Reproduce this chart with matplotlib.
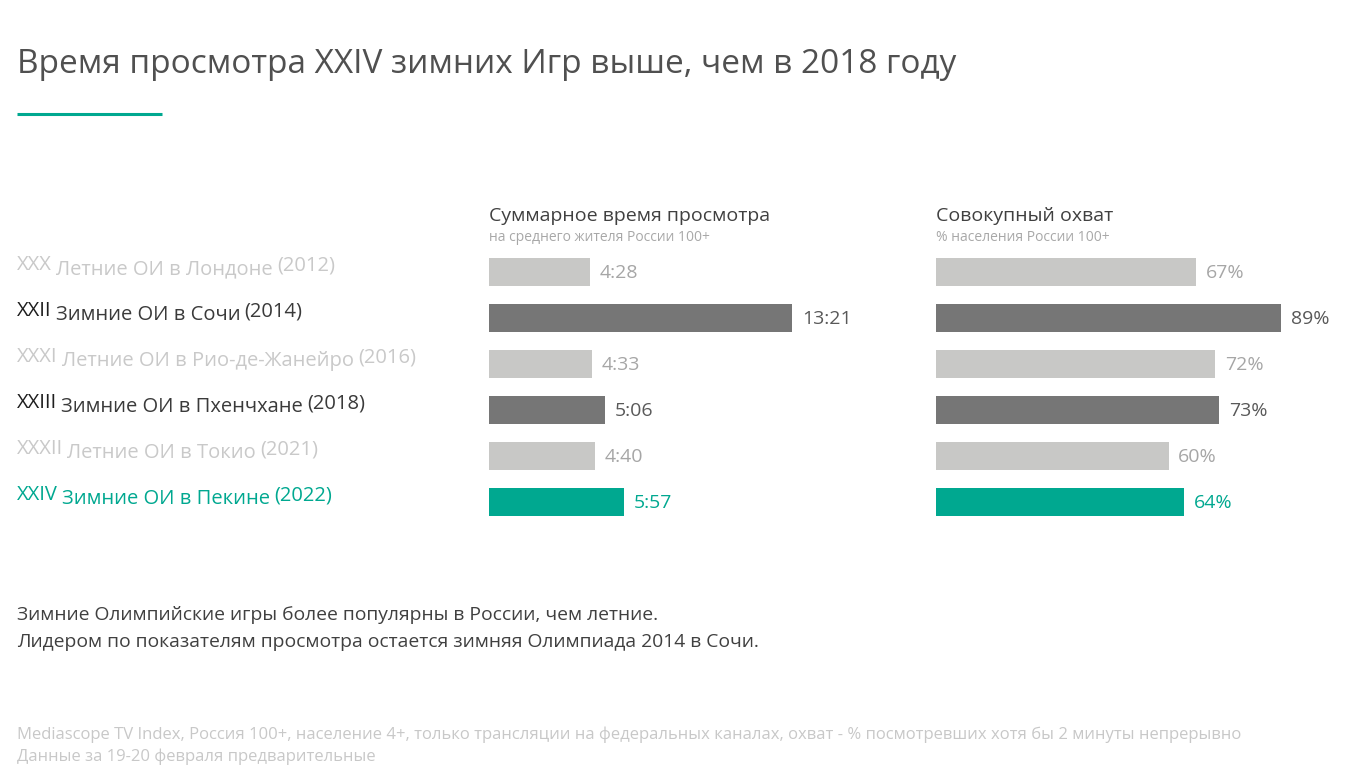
import matplotlib.pyplot as plt
import matplotlib.transforms as mtransforms

plt.rcParams['font.family'] = ['Open Sans', 'DejaVu Sans']

W, H = 1352, 779

# data
numerals = ["XXX", "XXII", "XXXI", "XXIII", "XXXII", "XXIV"]
names = ["Летние ОИ в Лондоне", "Зимние ОИ в Сочи", "Летние ОИ в Рио-де-Жанейро",
         "Зимние ОИ в Пхенчхане", "Летние ОИ в Токио", "Зимние ОИ в Пекине"]
years = ["(2012)", "(2014)", "(2016)", "(2018)", "(2021)", "(2022)"]
kinds = ["summer", "winter", "summer", "winter", "summer", "current"]
view_time = ["4:28", "13:21", "4:33", "5:06", "4:40", "5:57"]
reach = [67, 89, 72, 73, 60, 64]

view_sec = [int(t.split(":")[0]) * 60 + int(t.split(":")[1]) for t in view_time]

TEAL = "#00A890"
bar_col = {"summer": "#C8C8C6", "winter": "#767676", "current": TEAL}
val_col = {"summer": "#A6A6A6", "winter": "#595959", "current": TEAL}
lab_col = {"summer": "#C9C9C9", "winter": "#3A3A3A", "current": TEAL}


def fx(x):
    return x / W


def fy(y):
    return 1 - y / H


fig = plt.figure(figsize=(W / 100, H / 100), dpi=100)
fig.patch.set_facecolor("white")

# rows: centres at 272 + 46*i px
top, bottom = 249, 525
ax1 = fig.add_axes([fx(489), fy(bottom), fx(303), (bottom - top) / H])
ax2 = fig.add_axes([fx(936), fy(bottom), fx(345), (bottom - top) / H])

rows = list(range(len(numerals)))
ax1.barh(rows, view_sec, height=0.63, color=[bar_col[k] for k in kinds])
ax2.barh(rows, reach, height=0.63, color=[bar_col[k] for k in kinds])
ax1.set_xlim(0, max(view_sec))
ax2.set_xlim(0, max(reach))

for ax in (ax1, ax2):
    ax.set_ylim(5.5, -0.5)
    ax.axis("off")

for i, k in enumerate(kinds):
    ax1.annotate(view_time[i], xy=(view_sec[i], i), xytext=(7, -1), textcoords="offset points",
                 va="center", ha="left", fontsize=14, color=val_col[k], annotation_clip=False)
    ax2.annotate(f"{reach[i]}%", xy=(reach[i], i), xytext=(7, -1), textcoords="offset points",
                 va="center", ha="left", fontsize=14, color=val_col[k], annotation_clip=False)

# row labels, numeral and year sit a little higher than the name
blend = mtransforms.blended_transform_factory(fig.transFigure, ax1.transData)
for i, k in enumerate(kinds):
    c = lab_col[k]
    t1 = ax1.text(fx(17), i + 0.07, numerals[i], transform=blend, va="bottom", ha="left",
                  fontsize=14.5, color="#1E1E1E" if k == "winter" else c)
    t2 = ax1.annotate(names[i], xy=(1, 0), xycoords=t1, xytext=(3, -3), textcoords="offset points",
                      va="bottom", ha="left", fontsize=14.5, color=c)
    ax1.annotate(years[i], xy=(1, 0), xycoords=t2, xytext=(3, 3), textcoords="offset points",
                 va="bottom", ha="left", fontsize=14.5, color=c)

# panel headers
fig.text(fx(489), fy(221), "Суммарное время просмотра", fontsize=14, color="#404040", va="baseline")
fig.text(fx(489), fy(241), "на среднего жителя России 100+", fontsize=10, color="#A8A8A8", va="baseline")
fig.text(fx(936), fy(221), "Совокупный охват", fontsize=14, color="#404040", va="baseline")
fig.text(fx(936), fy(241), "% населения России 100+", fontsize=10, color="#A8A8A8", va="baseline")

# title and accent line
fig.text(fx(17), fy(73), "Время просмотра XXIV зимних Игр выше, чем в 2018 году",
         fontsize=24, color="#505050", va="baseline")
fig.add_artist(plt.Line2D([fx(17), fx(162)], [fy(114), fy(114)], color=TEAL, linewidth=2.2,
                          solid_capstyle="butt"))

# comment
fig.text(fx(17), fy(620), "Зимние Олимпийские игры более популярны в России, чем летние.",
         fontsize=13.9, color="#404040", va="baseline")
fig.text(fx(17), fy(647), "Лидером по показателям просмотра остается зимняя Олимпиада 2014 в Сочи.",
         fontsize=13.9, color="#404040", va="baseline")

# source
fig.text(fx(17), fy(739), "Mediascope TV Index, Россия 100+, население 4+, только трансляции на федеральных "
         "каналах, охват - % посмотревших хотя бы 2 минуты непрерывно",
         fontsize=12, color="#C8C8C8", va="baseline")
fig.text(fx(17), fy(761), "Данные за 19-20 февраля предварительные",
         fontsize=12, color="#C8C8C8", va="baseline")

fig.savefig("out.png", dpi=100, facecolor="white")
